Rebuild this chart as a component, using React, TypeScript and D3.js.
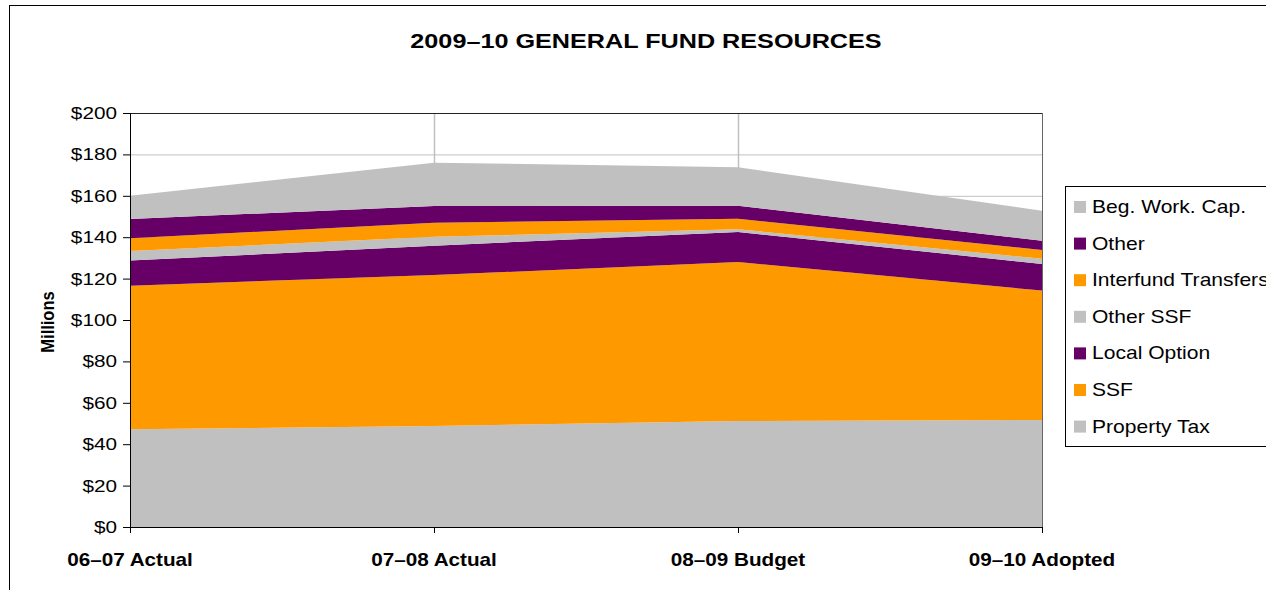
import React from "react";
import * as d3 from "d3";

const categories = ["06–07 Actual", "07–08 Actual", "08–09 Budget", "09–10 Adopted"];
const seriesNames = ["Property Tax", "SSF", "Local Option", "Other SSF", "Interfund Transfers", "Other", "Beg. Work. Cap."];
const propertyTax = [47.2, 48.8, 51.2, 51.7];
const ssf = [69.4, 72.9, 76.8, 62.5];
const localOption = [12.1, 14.2, 14.5, 12.9];
const otherSSF = [4.6, 4.3, 1.3, 2.5];
const interfund = [6.2, 6.8, 5.1, 4.2];
const other = [9.3, 8.1, 6.3, 4.5];
const begWorkCap = [11.2, 20.9, 18.6, 14.5];
const yTicks = [0, 20, 40, 60, 80, 100, 120, 140, 160, 180, 200];

const GRAY = "#C0C0C0";
const PURPLE = "#660066";
const ORANGE = "#FF9900";
const colors = [GRAY, ORANGE, PURPLE, GRAY, ORANGE, PURPLE, GRAY];

function SText(props: any) {
  const { x, y, sx, children, ...rest } = props;
  return (
    <g transform={`translate(${x},${y}) scale(${sx},1)`}>
      <text x={0} y={0} {...rest}>
        {children}
      </text>
    </g>
  );
}

export default function App() {
  const seriesValues = [propertyTax, ssf, localOption, otherSSF, interfund, other, begWorkCap];
  const rows = categories.map((c, i) => {
    const r: any = { cat: c };
    seriesNames.forEach((s, k) => (r[s] = seriesValues[k][i]));
    return r;
  });
  const stacked = d3.stack().keys(seriesNames)(rows);

  const left = 130, right = 1042, top = 113, bottom = 527;
  const x = d3.scalePoint().domain(categories).range([left, right]);
  const y = d3.scaleLinear().domain([0, 200]).range([bottom, top]);
  const area = d3
    .area<any>()
    .x((d) => x(d.data.cat) as number)
    .y0((d) => y(d[0]))
    .y1((d) => y(d[1]));

  const font = "Liberation Sans, Arial, sans-serif";
  const legendOrder = [...seriesNames].reverse();

  return (
    <div style={{ position: "fixed", left: 0, top: 0 }}>
      <svg width={1266} height={590} style={{ display: "block", background: "#fff" }} fontFamily={font}>
        <rect x={9.5} y={5.5} width={1300} height={700} fill="#fff" stroke="#000" />
        <SText x={646} y={48} sx={1.2} textAnchor="middle" fontWeight="bold" fontSize={21}>
          2009–10 GENERAL FUND RESOURCES
        </SText>
        {/* gridlines */}
        {yTicks.map((t) => (
          <line key={t} x1={left} x2={right} y1={y(t) + 0.5} y2={y(t) + 0.5} stroke="#C0C0C0" />
        ))}
        {categories.slice(1, -1).map((c) => (
          <line key={c} x1={(x(c) as number) + 0.5} x2={(x(c) as number) + 0.5} y1={top} y2={bottom} stroke="#C0C0C0" strokeWidth={1.5} />
        ))}
        {/* areas */}
        {stacked.map((s, i) => (
          <path key={s.key} d={area(s as any) as string} fill={colors[i]} stroke="none" />
        ))}
        {/* plot border */}
        <line x1={left} x2={right} y1={top + 0.5} y2={top + 0.5} stroke="#222" />
        <line x1={right + 0.5} x2={right + 0.5} y1={top} y2={bottom} stroke="#666" />
        {/* axes */}
        <line x1={left + 0.5} x2={left + 0.5} y1={top} y2={bottom + 0.5} stroke="#000" />
        <line x1={left} x2={right + 1} y1={bottom + 0.5} y2={bottom + 0.5} stroke="#000" />
        {yTicks.map((t) => (
          <g key={t}>
            <line x1={left - 7} x2={left} y1={y(t) + 0.5} y2={y(t) + 0.5} stroke="#000" />
            <SText x={left - 13} y={y(t) + 6} sx={1.22} textAnchor="end" fontSize={17}>
              ${t}
            </SText>
          </g>
        ))}
        {categories.map((c) => (
          <g key={c}>
            <line x1={(x(c) as number) + 0.5} x2={(x(c) as number) + 0.5} y1={bottom} y2={bottom + 6} stroke="#000" />
            <SText x={x(c) as number} y={566} sx={1.15} textAnchor="middle" fontWeight="bold" fontSize={18}>
              {c}
            </SText>
          </g>
        ))}
        <g transform="translate(54,322) rotate(-90)">
          <g transform="scale(1,1.15)">
            <text x={0} y={0} textAnchor="middle" fontWeight="bold" fontSize={16.5}>
              Millions
            </text>
          </g>
        </g>
        {/* legend */}
        <rect x={1065.5} y={186.5} width={260} height={260} fill="#fff" stroke="#000" />
        {legendOrder.map((name, i) => {
          const cy = 207 + i * 36.6;
          const ci = seriesNames.indexOf(name);
          return (
            <g key={name}>
              <rect x={1074} y={cy - 6} width={12} height={12} fill={colors[ci]} />
              <SText x={1092} y={cy + 6} sx={1.17} fontSize={18}>
                {name}
              </SText>
            </g>
          );
        })}
      </svg>
    </div>
  );
}
